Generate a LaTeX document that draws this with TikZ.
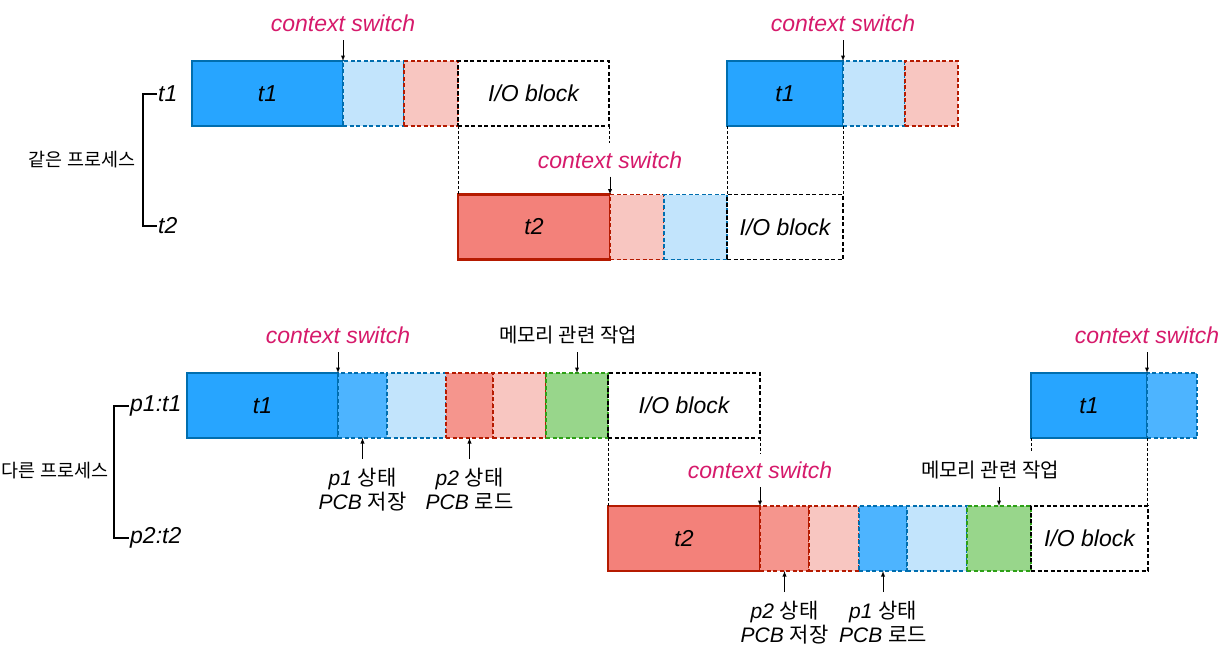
\documentclass[tikz,border=0pt]{standalone}
\usepackage{fontspec}
\setmainfont{Liberation Sans}
\newfontfamily\kr{Noto Sans CJK KR}
\usetikzlibrary{positioning}

\definecolor{thblue}{HTML}{27A5FF}
\definecolor{thblueline}{HTML}{006EAF}
\definecolor{midblue}{HTML}{4DB4FF}
\definecolor{lightblue}{HTML}{C2E4FC}
\definecolor{thred}{HTML}{F3817A}
\definecolor{thredline}{HTML}{B51A00}
\definecolor{midred}{HTML}{F5958D}
\definecolor{lightred}{HTML}{F8C6C1}
\definecolor{memgreen}{HTML}{98D68B}
\definecolor{memline}{HTML}{2DA016}
\definecolor{cswitch}{HTML}{D61A6B}

\begin{document}
\begin{tikzpicture}[x=1pt,y=-1pt]
\tikzstyle{seg}=[rectangle, minimum height=65pt, inner sep=0pt, outer sep=0pt, font=\fontsize{23}{27}\selectfont\itshape]
\tikzstyle{run1}=[seg, fill=thblue, draw=thblueline, line width=2.4pt]
\tikzstyle{run2}=[seg, fill=thred, draw=thredline, line width=2.4pt]
\tikzstyle{cut}=[seg, line width=1.8pt, dash pattern=on 4pt off 2.5pt]
\tikzstyle{saveb}=[cut, fill=midblue, draw=thblueline]
\tikzstyle{idleb}=[cut, fill=lightblue, draw=thblueline]
\tikzstyle{saver}=[cut, fill=midred, draw=thredline]
\tikzstyle{idler}=[cut, fill=lightred, draw=thredline]
\tikzstyle{mem}=[cut, fill=memgreen, draw=memline]
\tikzstyle{iob}=[cut, draw=black]
\tikzstyle{guide}=[draw, line width=0.9pt, dash pattern=on 2.5pt off 2.5pt]
\tikzstyle{arr}=[draw, line width=0.9pt, -latex]
\tikzstyle{cs}=[inner xsep=1pt, inner ysep=8pt, text=cswitch, font=\fontsize{23}{27}\selectfont\itshape]
\tikzstyle{memlab}=[inner xsep=1pt, inner ysep=8pt, font=\fontsize{20}{23}\selectfont\kr]
\tikzstyle{pcb}=[align=center, inner xsep=1pt, inner ysep=9pt, font=\fontsize{21}{23.5}\selectfont]
\tikzstyle{thr}=[anchor=west, inner sep=1pt, font=\fontsize{23}{27}\selectfont\itshape]
\tikzstyle{grp}=[font=\fontsize{18.5}{21}\selectfont\kr]
\tikzstyle{brack}=[draw, line width=1.2pt]

\useasboundingbox (0,0) rectangle (1231,659);

% same process
\node[run1, minimum width=151pt] (a1) at (267.5,93.5) {t1};
\node[idleb, minimum width=61pt, right=0pt of a1] (a2) {};
\node[idler, minimum width=54pt, right=0pt of a2] (a3) {};
\node[iob, minimum width=151pt, right=0pt of a3] (a4) {I/O block};

\node[run1, minimum width=116pt] (a5) at (785,93.5) {t1};
\node[idleb, minimum width=62pt, right=0pt of a5] (a6) {};
\node[idler, minimum width=53pt, right=0pt of a6] (a7) {};

\node[run2, minimum width=152pt] (b1) at (534,227) {t2};
\node[idler, minimum width=54pt, right=0pt of b1] (b2) {};
\node[idleb, minimum width=63pt, right=0pt of b2] (b3) {};
\node[iob, minimum width=116pt, right=0pt of b3] (b4) {I/O block};

\node[cs, above=21pt of a1.north east] (csa) {context switch};
\node[cs, above=21pt of a5.north east] (csc) {context switch};
\node[cs, above=18pt of b1.north east] (csb) {context switch};
\draw[arr] (csa) -- (a1.north east);
\draw[arr] (csc) -- (a5.north east);
\draw[arr] (csb) -- (b1.north east);

\draw[guide] (a4.south west) -- (a4.south west |- b1.north);
\draw[guide] (a4.south east) -- (a4.south east |- csb.north);
\draw[guide] (a5.south west) -- (b4.north west);
\draw[guide] (a5.south east) -- (b4.north east);

\node[thr] (ta) at (157,94) {t1};
\node[thr] (tb) at (157,226) {t2};
\draw[brack] (ta.west) -- ++(-14pt,0) |- (tb.west);
\node[grp] (ga) at (82,160) {같은 프로세스};

% different process
\node[run1, minimum width=151pt] (c1) at (262.5,405.5) {t1};
\node[saveb, minimum width=49pt, right=0pt of c1] (c2) {};
\node[idleb, minimum width=59pt, right=0pt of c2] (c3) {};
\node[saver, minimum width=47pt, right=0pt of c3] (c4) {};
\node[idler, minimum width=53pt, right=0pt of c4] (c5) {};
\node[mem, minimum width=62pt, right=0pt of c5] (c6) {};
\node[iob, minimum width=152pt, right=0pt of c6] (c7) {I/O block};

\node[run1, minimum width=116pt] (c8) at (1089,405.5) {t1};
\node[saveb, minimum width=50pt, right=0pt of c8] (c9) {};

\node[run2, minimum width=152pt] (d1) at (684,538.5) {t2};
\node[saver, minimum width=49pt, right=0pt of d1] (d2) {};
\node[idler, minimum width=50pt, right=0pt of d2] (d3) {};
\node[saveb, minimum width=48pt, right=0pt of d3] (d4) {};
\node[idleb, minimum width=60pt, right=0pt of d4] (d5) {};
\node[mem, minimum width=64pt, right=0pt of d5] (d6) {};
\node[iob, minimum width=117pt, right=0pt of d6] (d7) {I/O block};

\node[cs, above=21pt of c1.north east] (csd) {context switch};
\node[cs, above=21pt of c8.north east] (csf) {context switch};
\node[cs, above=19pt of d1.north east] (cse) {context switch};
\draw[arr] (csd) -- (c1.north east);
\draw[arr] (csf) -- (c8.north east);
\draw[arr] (cse) -- (d1.north east);

\node[memlab, above=21pt of c6.north, xshift=-9pt] (mema) {메모리 관련 작업};
\node[memlab, above=19pt of d6.north, xshift=-9pt] (memb) {메모리 관련 작업};
\draw[arr] (c6.north |- mema.south) -- (c6.north);
\draw[arr] (d6.north |- memb.south) -- (d6.north);

\node[pcb, below=21pt of c2.south] (pca) {{\itshape p1} {\kr 상태}\\{\itshape PCB} {\kr 저장}};
\node[pcb, below=21pt of c4.south] (pcb) {{\itshape p2} {\kr 상태}\\{\itshape PCB} {\kr 로드}};
\node[pcb, below=21pt of d2.south] (pcc) {{\itshape p2} {\kr 상태}\\{\itshape PCB} {\kr 저장}};
\node[pcb, below=21pt of d4.south] (pcd) {{\itshape p1} {\kr 상태}\\{\itshape PCB} {\kr 로드}};
\draw[arr] (pca) -- (c2.south);
\draw[arr] (pcb) -- (c4.south);
\draw[arr] (pcc) -- (d2.south);
\draw[arr] (pcd) -- (d4.south);

\draw[guide] (c7.south west) -- (c7.south west |- d1.north);
\draw[guide] (c7.south east) -- (c7.south east |- cse.north);
\draw[guide] (c8.south west) -- (c8.south west |- memb.north);
\draw[guide] (c8.south east) -- (c8.south east |- d7.north);

\node[thr] (pa) at (129,406) {p1:t1};
\node[thr] (pb) at (129,538) {p2:t2};
\draw[brack] (pa.west) -- ++(-15pt,0) |- (pb.west);
\node[grp] (gb) at (55,471) {다른 프로세스};
\end{tikzpicture}
\end{document}
